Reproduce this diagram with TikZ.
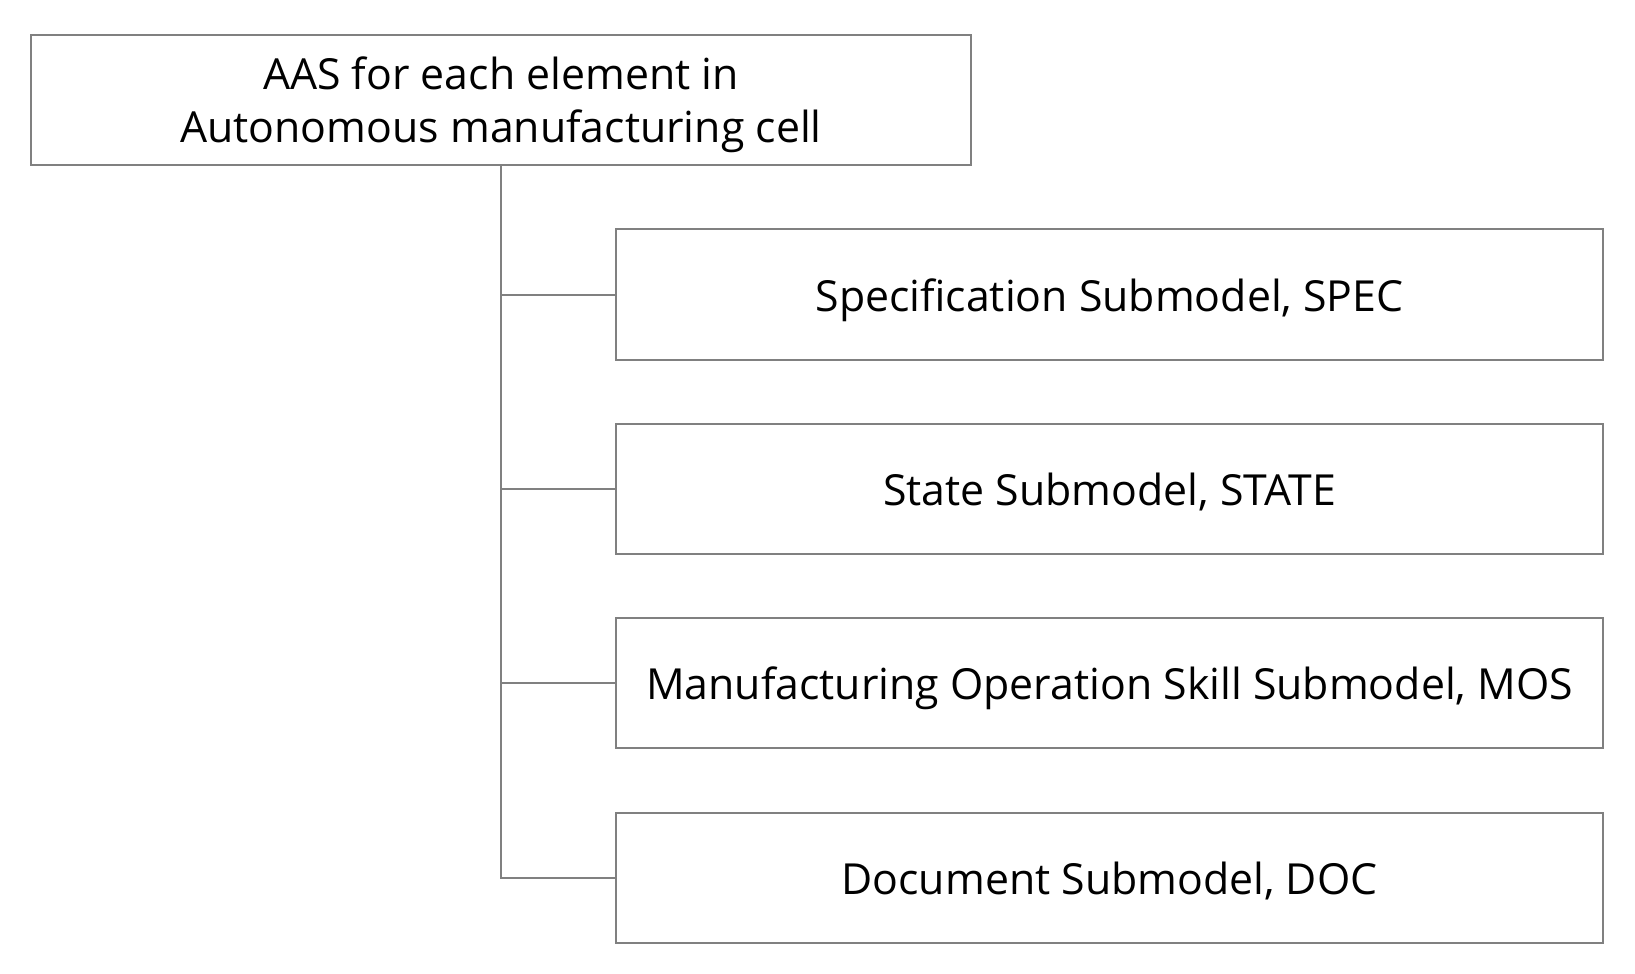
\documentclass[tikz,border=0pt]{standalone}
\usepackage{fontspec}
\setmainfont{Open Sans}
\usepackage{tikz}
\usetikzlibrary{positioning}
\definecolor{linegray}{RGB}{128,128,128}

\begin{document}
\begin{tikzpicture}[x=0.5pt, y=-0.5pt]
        \tikzset{
            topbox/.style={draw=linegray, fill=white, rectangle, minimum width=470pt, minimum height=65pt, align=center, line width=1pt, inner sep=0pt, text depth=0pt, font=\fontsize{21.4}{26.5}\selectfont},
            subbox/.style={draw=linegray, fill=white, rectangle, minimum width=493.5pt, minimum height=65pt, align=center, line width=1pt, inner sep=0pt, text height=16.5pt, text depth=0pt, font=\fontsize{21.4}{26.5}\selectfont},
            conn/.style={draw=linegray, line width=1pt},
        }
        \useasboundingbox (0,0) rectangle (1635,974);

        % Root AAS
        \node [topbox] (aas) at (501,100) {AAS for each element in\\Autonomous manufacturing cell};

        % Submodels
        \node [subbox] (spec) at (1109.5,294.5) {Specification Submodel,\ SPEC};
        \node [subbox, below=31.2pt of spec] (state) {State Submodel, STATE};
        \node [subbox, below=31.2pt of state] (mos) {Manufacturing Operation Skill Submodel, MOS};
        \node [subbox, below=31.2pt of mos] (doc) {Document Submodel,\ DOC};

        % Connections
        \draw [conn] (aas.south) |- (doc.west);
        \draw [conn] (aas.south |- spec.west) -- (spec.west);
        \draw [conn] (aas.south |- state.west) -- (state.west);
        \draw [conn] (aas.south |- mos.west) -- (mos.west);
    \end{tikzpicture}
\end{document}
